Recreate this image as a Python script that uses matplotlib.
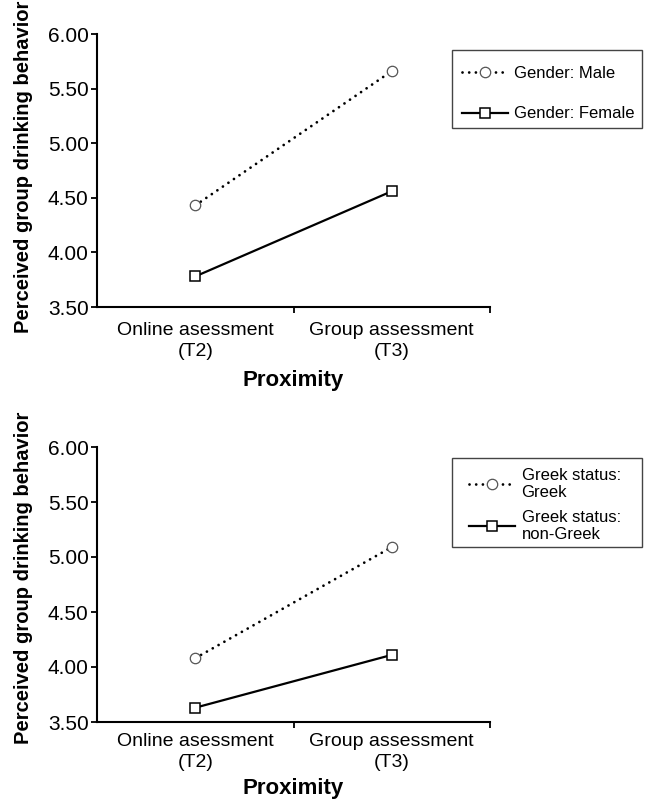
import matplotlib
matplotlib.use("Agg")
import matplotlib.pyplot as plt
from matplotlib.patches import Rectangle

plt.rcParams['font.family'] = ['Liberation Sans', 'DejaVu Sans']

categories = ["Online asessment\n(T2)", "Group assessment\n(T3)"]
male = [4.43, 5.66]
female = [3.78, 4.56]
greek = [4.08, 5.09]
non_greek = [3.63, 4.11]
yticks = [3.50, 4.00, 4.50, 5.00, 5.50, 6.00]

W, H = 648, 808
fig = plt.figure(figsize=(6.48, 8.08), dpi=100)
ax1 = fig.add_axes([97/W, 1-307/H, (490-97)/W, (307-34)/H])
ax2 = fig.add_axes([97/W, 1-722/H, (490-97)/W, (722-447)/H])

def style(ax, s1, s2, lab1, lab2, leg_anchor, labelspacing, box, ylab_y, tpad, lpad):
    x = [0.5, 1.5]
    l1, = ax.plot(x, s1, linestyle=(0, (0.01, 2.4)), color='black', lw=2.0,
                  dash_capstyle='round', marker='o', markersize=7.5,
                  markerfacecolor='white', markeredgecolor='#555555', markeredgewidth=0.9,
                  label=lab1)
    l2, = ax.plot(x, s2, linestyle='-', color='black', lw=1.6,
                  marker='s', markersize=7.5,
                  markerfacecolor='white', markeredgecolor='black', markeredgewidth=1.1,
                  label=lab2)
    ax.set_xlim(0, 2)
    ax.set_ylim(3.5, 6.0)
    ax.set_yticks(yticks)
    ax.set_yticklabels([f"{v:.2f}" for v in yticks], fontsize=15)
    ax.set_xticks([1, 2])
    ax.set_xticklabels([])
    ax.set_xticks(x, minor=True)
    ax.set_xticklabels(categories, minor=True, fontsize=14, linespacing=1.3)
    ax.tick_params(axis='x', which='minor', length=0, pad=tpad)
    ax.tick_params(axis='both', which='major', direction='out', length=4, width=1.3)
    ax.tick_params(axis='y', pad=2)
    for s in ['top', 'right']:
        ax.spines[s].set_visible(False)
    for s in ['left', 'bottom']:
        ax.spines[s].set_linewidth(1.5)
    ax.set_ylabel("Perceived group drinking behavior", fontsize=14.5, fontweight='bold')
    ax.set_xlabel("Proximity", fontsize=16, fontweight='bold', labelpad=lpad)
    ax.yaxis.set_label_coords(-0.163, ylab_y)
    leg = fig.legend(handles=[l1, l2], loc='center left',
                     bbox_to_anchor=(leg_anchor[0]/W, 1-leg_anchor[1]/H),
                     bbox_transform=fig.transFigure,
                     frameon=False, fontsize=12,
                     handlelength=2.75, handletextpad=0.4, labelspacing=labelspacing,
                     borderpad=0, borderaxespad=0)
    x0, y0, x1, y1 = box
    fig.patches.append(Rectangle((x0/W, 1-y1/H), (x1-x0)/W, (y1-y0)/H,
                                 transform=fig.transFigure, fill=False,
                                 edgecolor='#444444', linewidth=1.0))
    return leg

style(ax1, male, female, "Gender: Male", "Gender: Female",
      (462, 93.5), 1.55, (452, 50, 642, 128), 0.515, 11, 7)
style(ax2, greek, non_greek, "Greek status:\nGreek", "Greek status:\nnon-Greek",
      (469, 505), 0.6, (452, 458, 642, 547), 0.525, 8, 5)

fig.savefig("out.png", dpi=100)
